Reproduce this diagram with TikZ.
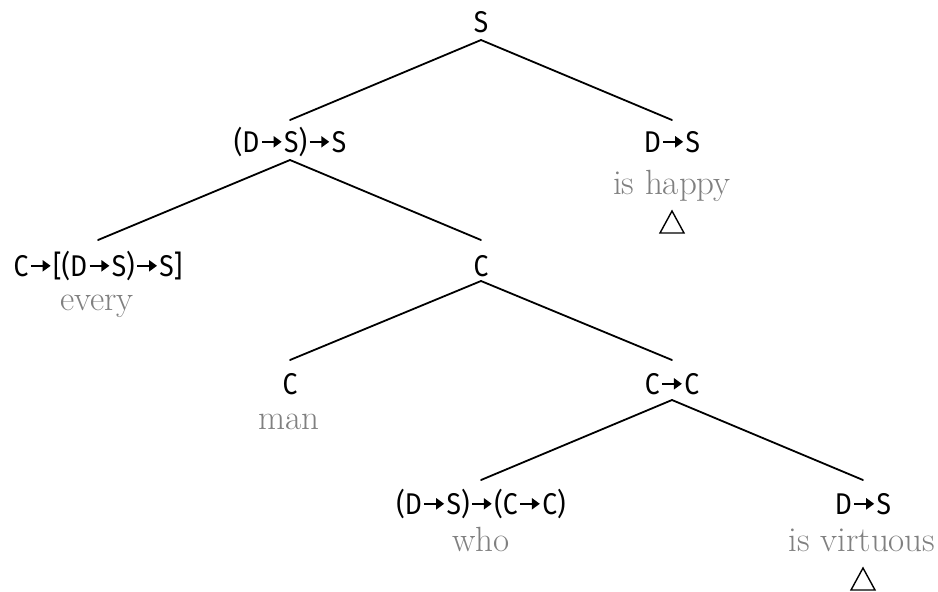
\documentclass[tikz,border=0pt]{standalone}
\usepackage{fontspec}
\newfontfamily\catfont[FakeStretch=0.88]{Fira Sans}
\usetikzlibrary{arrows.meta}
\newcommand{\rarr}{\kern0.04em\tikz[baseline=0pt]\draw[line width=2.5pt,-{Triangle[length=8pt,width=11pt]}] (0,0.34em) -- (0.66em,0.34em);\kern0.04em}
\tikzset{
  cat/.style={font=\catfont\fontsize{30}{34}\selectfont, inner sep=0pt, anchor=base},
  word/.style={font=\fontsize{35}{38}\selectfont, text=black!50, inner sep=0pt, anchor=base},
  edge/.style={line width=1.8pt, line cap=round},
  tri/.style={line width=1.4pt, line join=miter}
}
\begin{document}
\begin{tikzpicture}[x=1pt,y=-1pt]
\useasboundingbox (0,0) rectangle (938,592);
% categories
\node[cat] (s) at (481,32) {S};
\node[cat] (dss) at (290,152) {(D\rarr S)\rarr S};
\node[cat] (ds1) at (672,152) {D\rarr S};
\node[cat] (every) at (98,276) {C\rarr[(D\rarr S)\rarr S]};
\node[cat] (c1) at (481,276) {C};
\node[cat] (c2) at (290,394) {C};
\node[cat] (cc) at (672,394) {C\rarr C};
\node[cat] (who) at (481,514) {(D\rarr S)\rarr(C\rarr C)};
\node[cat] (ds2) at (863,514) {D\rarr S};
% words
\node[word] (w1) at (672,194) {is happy};
\node[word] (w2) at (97,310) {every};
\node[word] (w3) at (289,429) {man};
\node[word] (w4) at (481,551) {who};
\node[word] (w5) at (862,551) {is virtuous};
% triangles
\draw[tri] (660,233) -- (684,233) -- (672,211) -- cycle;
\draw[tri] (851,590) -- (875,590) -- (863,568) -- cycle;
% edges
\draw[edge] ([yshift=-8pt]s.base) -- ([yshift=32pt]dss.base);
\draw[edge] ([yshift=-8pt]s.base) -- ([yshift=32pt]ds1.base);
\draw[edge] ([yshift=-8pt]dss.base) -- ([yshift=36pt]every.base);
\draw[edge] ([yshift=-8pt]dss.base) -- ([yshift=36pt]c1.base);
\draw[edge] ([yshift=-5pt]c1.base) -- ([yshift=34pt]c2.base);
\draw[edge] ([yshift=-5pt]c1.base) -- ([yshift=34pt]cc.base);
\draw[edge] ([yshift=-6pt]cc.base) -- ([yshift=34pt]who.base);
\draw[edge] ([yshift=-6pt]cc.base) -- ([yshift=34pt]ds2.base);
\end{tikzpicture}
\end{document}
